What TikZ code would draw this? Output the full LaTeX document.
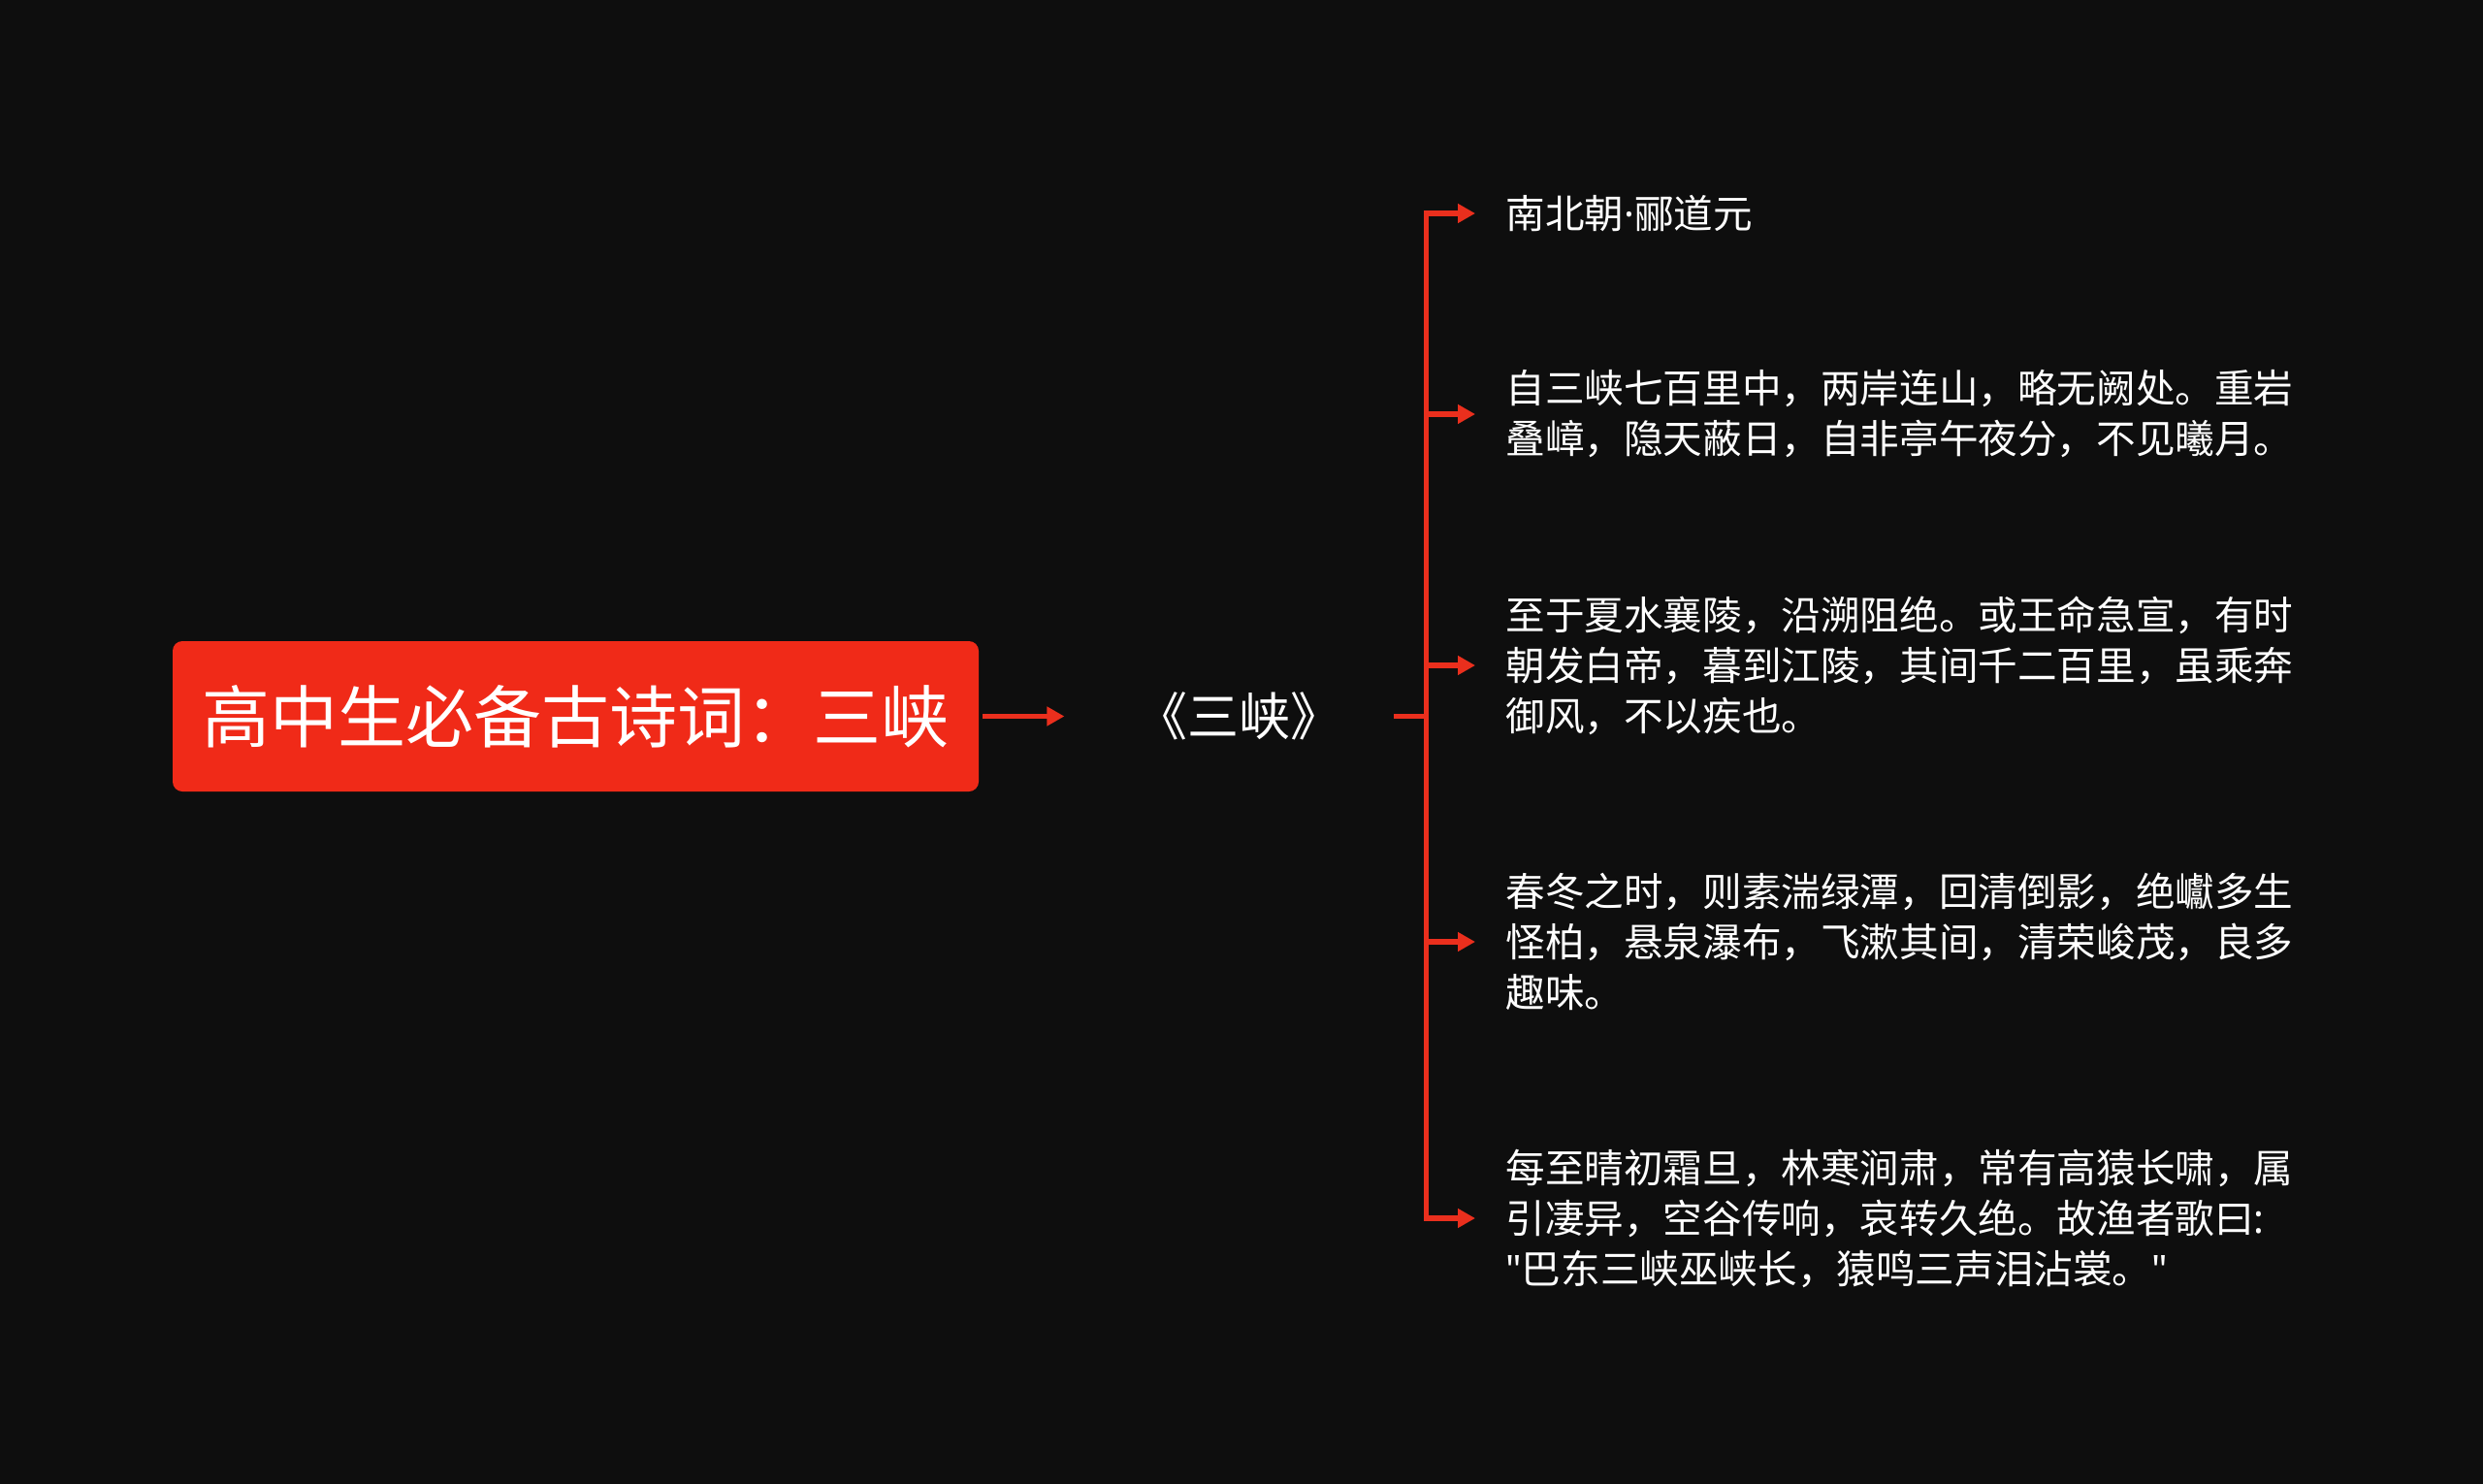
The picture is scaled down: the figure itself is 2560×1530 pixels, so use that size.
\documentclass[tikz,border=0pt]{standalone}
\usepackage{fontspec}
\setmainfont{Noto Sans CJK SC}
\newfontfamily\latinfont{Noto Sans}
\usepackage{xcolor}
\usepackage{tikz}
\usetikzlibrary{shapes,positioning,calc,arrows.meta}
\definecolor{bgdark}{HTML}{0E0E0E}
\definecolor{rootred}{HTML}{F02A18}
\definecolor{linkred}{HTML}{EA2F1D}
\newcommand{\latq}{{\latinfont"}}

\begin{document}
\begin{tikzpicture}[x=0.5pt, y=-0.5pt,
        root/.style={rectangle, fill=rootred, rounded corners=5pt, minimum width=415.5pt, minimum height=77.5pt, inner xsep=0pt, text=white, font=\fontsize{35pt}{42pt}\selectfont},
        poem/.style={rectangle, inner xsep=37pt, inner ysep=4pt, text=white, font=\fontsize{26.5pt}{32pt}\selectfont},
        leaf/.style={rectangle, anchor=west, inner xsep=15.5pt, inner ysep=2pt, align=left, text=white, font=\fontsize{20.3pt}{26pt}\selectfont},
        link/.style={draw=linkred, line width=2.8pt},
        arrow/.style={link, -{Triangle[length=9pt, width=9.5pt]}},
      ]
      \fill [bgdark] (0,0) rectangle (2560,1530);
      \useasboundingbox (0,0) rectangle (2560,1530);
      \node [root] (title) at (593.5,738.5) {高中生必备古诗词：三峡};
      \node [poem, right=44pt of title] (poem) {《三峡》};
      \coordinate (fork) at (1470.5,738.5);
      \node [leaf] (author) at (1521,220) {南北朝{\latinfont·}郦道元};
      \node [leaf] (para1) at (1521,427) {自三峡七百里中，两岸连山，略无阙处。重岩\\叠嶂，隐天蔽日，自非亭午夜分，不见曦月。};
      \node [leaf] (para2) at (1521,686) {至于夏水襄陵，沿溯阻绝。或王命急宣，有时\\朝发白帝，暮到江陵，其间千二百里，虽乘奔\\御风，不以疾也。};
      \node [leaf] (para3) at (1521,971) {春冬之时，则素湍绿潭，回清倒影，绝巘多生\\怪柏，悬泉瀑布，飞漱其间，清荣峻茂，良多\\趣味。};
      \node [leaf] (para4) at (1521,1256) {每至晴初霜旦，林寒涧肃，常有高猿长啸，属\\引凄异，空谷传响，哀转久绝。故渔者歌曰{\latinfont:}\\\latq 巴东三峡巫峡长，猿鸣三声泪沾裳。\latq};
      \draw [arrow, shorten <=2pt] (title) -- (poem);
      \draw [link, shorten <=-10.5pt] (poem.east) -- (fork);
      \draw [arrow] (fork) |- (author.west);
      \draw [arrow] (fork) |- (para1.west);
      \draw [arrow] (fork) |- (para2.west);
      \draw [arrow] (fork) |- (para3.west);
      \draw [arrow] (fork) |- (para4.west);
    \end{tikzpicture}
\end{document}
